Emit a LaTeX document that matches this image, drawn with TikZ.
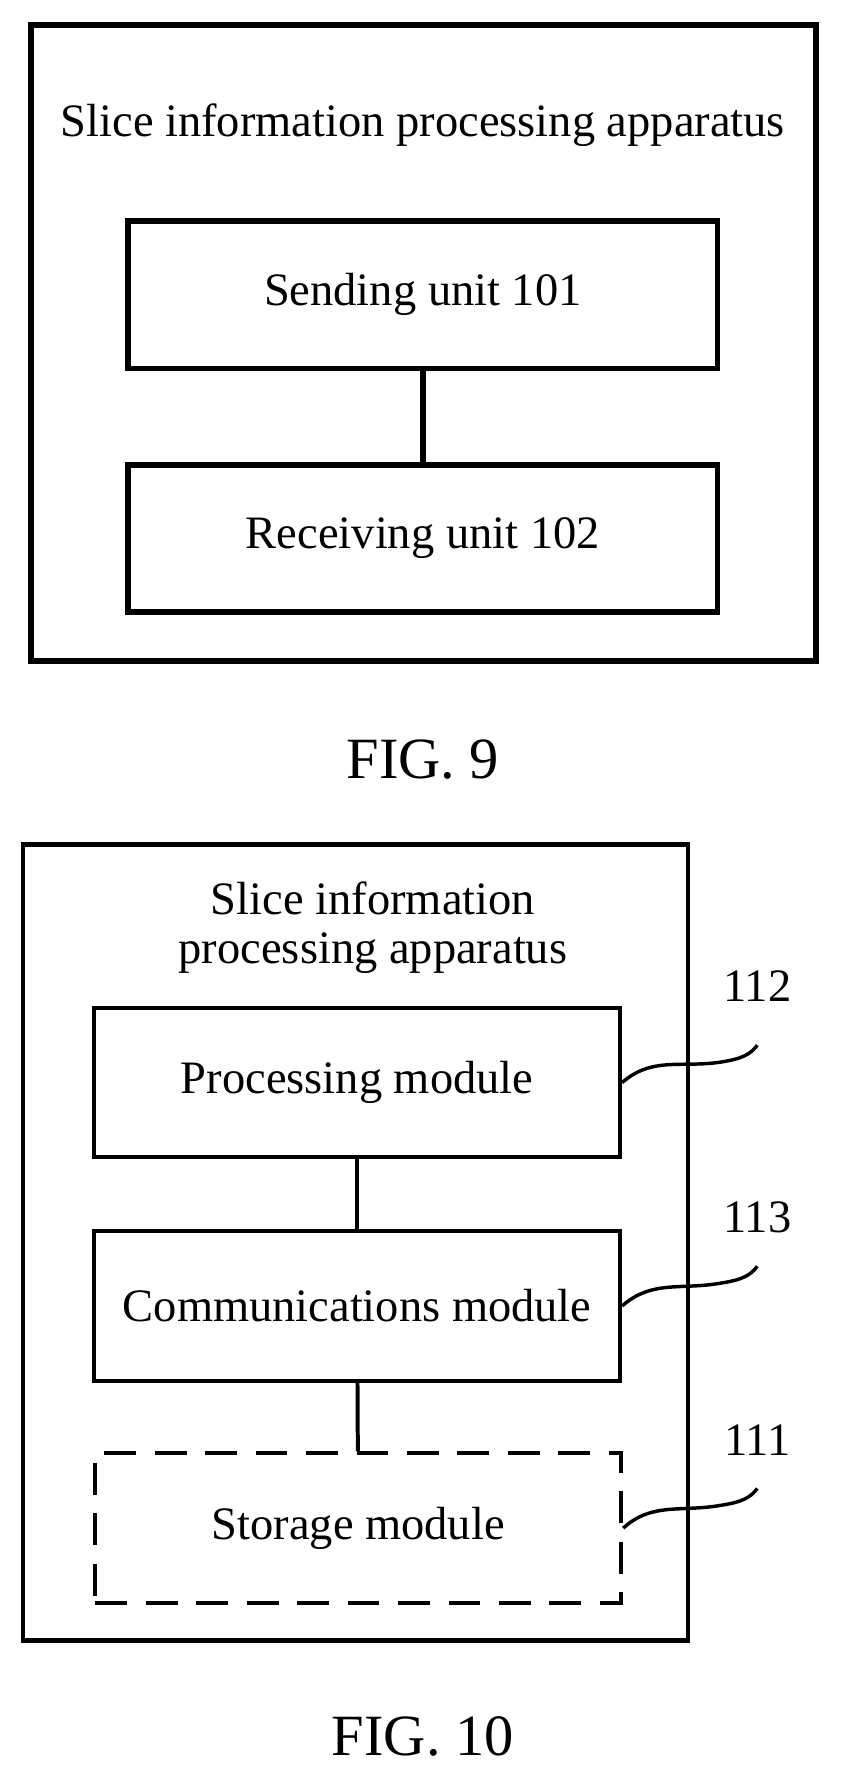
\documentclass[tikz,border=0pt]{standalone}
\usepackage{fontspec}
\setmainfont{Liberation Serif}
\usetikzlibrary{positioning}

\tikzset{
	txt/.style={font=\fontsize{35}{40}\selectfont},
	unit/.style={draw,line width=4.2pt,minimum width=520*0.03cm,minimum height=130*0.03cm,txt},
	module/.style={draw,line width=3pt,minimum width=464*0.03cm,minimum height=132*0.03cm,txt},
	leader/.style={line width=2.6pt},
}

\begin{document}
\begin{tikzpicture}[x=0.03cm,y=-0.03cm,line join=miter]
	\useasboundingbox (0,0) rectangle (745,1579);
	% FIG. 9
	\draw[line width=4.4pt] (27,22) rectangle (720,583);
	\node[txt] (T9) at (373,110) {Slice information processing apparatus};
	\node[unit] (S) at (373,260) {Sending unit 101};
	\node[unit] (R) at (373,475) {Receiving unit 102};
	\draw[line width=4.2pt] (S) -- (R);
	\node[font=\fontsize{44}{50}\selectfont] (F9) at (373,670) {FIG. 9};
	% FIG. 10
	\draw[line width=3.2pt] (20,745) rectangle (607,1447);
	\node[txt,align=center] (T10) at (329,818) {Slice information\\[-3pt]processing apparatus};
	\node[module] (P) at (315,955) {Processing module};
	\node[module] (C) at (315,1152) {Communications module};
	\node[module,dashed,dash pattern=on 24pt off 14pt] (M) at (316,1348) {Storage module};
	\draw[line width=3pt] (P) -- (C);
	\draw[line width=3pt] (C) -- (M);
	% leaders
	\coordinate (e112) at (668,922);
	\coordinate (e113) at (668,1117);
	\coordinate (e111) at (668,1313);
	\draw[leader] (P.east) .. controls (575,932) and (600,942) .. (635,937) .. controls (655,934) and (662,930) .. (e112);
	\draw[leader] (C.east) .. controls (575,1129) and (600,1138) .. (635,1132) .. controls (655,1129) and (662,1125) .. (e113);
	\draw[leader] (M.east) .. controls (575,1325) and (600,1334) .. (635,1328) .. controls (655,1325) and (662,1321) .. (e111);
	\node[txt] (L112) at (668,870) {112};
	\node[txt] (L113) at (668,1074) {113};
	\node[txt] (L111) at (668,1270) {111};
	\node[font=\fontsize{44}{50}\selectfont] (F10) at (373,1532) {FIG. 10};
\end{tikzpicture}
\end{document}
